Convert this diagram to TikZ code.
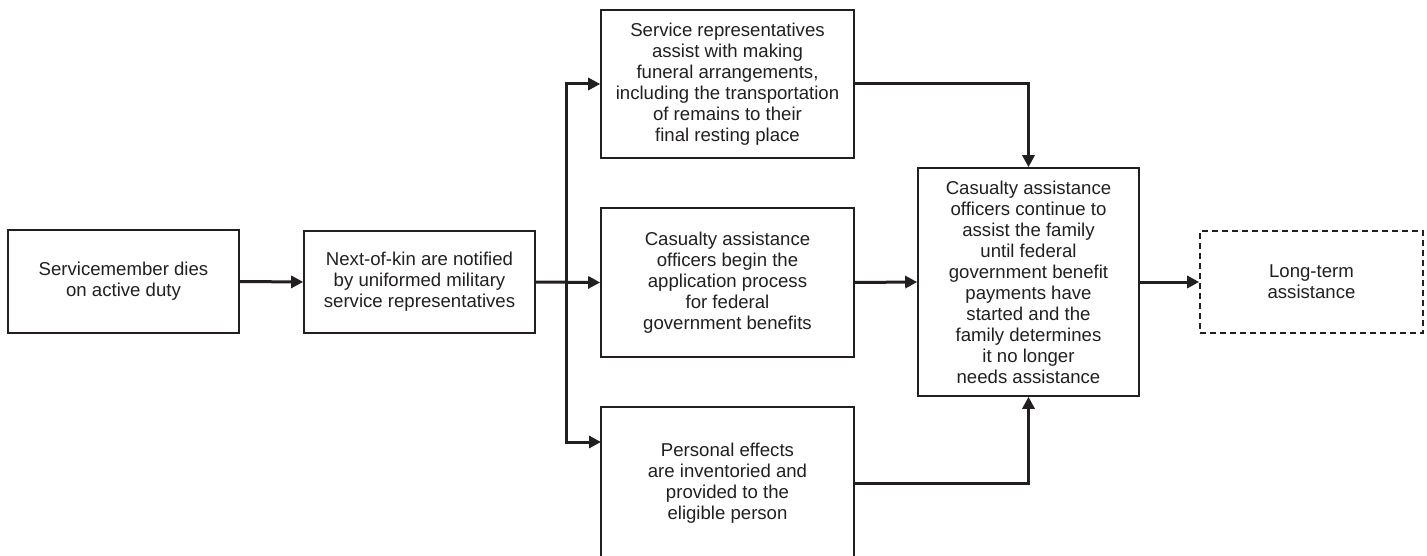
\documentclass[tikz,border=0pt]{standalone}
\usepackage{fontspec}
\setmainfont{Liberation Sans}
\usetikzlibrary{arrows.meta}
\definecolor{ink}{HTML}{231F20}
\tikzset{
  box/.style={draw=ink, line width=1.6pt, inner sep=0pt, align=center, text=ink,
    font=\fontsize{18.6}{21}\selectfont},
  dbox/.style={box, dash pattern=on 6pt off 4pt},
  conn/.style={draw=ink, line width=3pt, -{Triangle[length=12pt,width=12pt]}}
}
\begin{document}
\begin{tikzpicture}[x=1pt,y=-1pt]
\clip (0,0) rectangle (1427,556);
\fill[white] (0,0) rectangle (1427,556);
\node[box, minimum width=231pt, minimum height=103pt] (b1) at (123.5,281.5)
  {Servicemember dies\\on active duty};
\node[box, minimum width=231pt, minimum height=102pt] (b2) at (419.5,282)
  {Next-of-kin are notified\\by uniformed military\\service representatives};
\node[box, minimum width=253pt, minimum height=148pt] (top) at (727.5,84)
  {Service representatives\\assist with making\\funeral arrangements,\\including the transportation\\of remains to their\\final resting place};
\node[box, minimum width=253pt, minimum height=149pt] (mid) at (727.5,282.5)
  {Casualty assistance\\officers begin the\\application process\\for federal\\government benefits};
\node[box, minimum width=253pt, minimum height=152pt] (bot) at (727.5,483)
  {Personal effects\\are inventoried and\\provided to the\\eligible person};
\node[box, minimum width=221pt, minimum height=228pt] (rb) at (1028.5,282)
  {Casualty assistance\\officers continue to\\assist the family\\until federal\\government benefit\\payments have\\started and the\\family determines\\it no longer\\needs assistance};
\node[dbox, minimum width=223pt, minimum height=102pt] (lt) at (1311.5,282)
  {Long-term\\assistance};
\coordinate (j) at (566,282);
\coordinate (bin) at (601,442);
\draw[conn] (b1.east) -- (b2.west);
\draw[conn] (b2.east) -- (mid.west);
\draw[conn] (j) |- (top.west);
\draw[conn] (j) |- (bin);
\draw[conn] (top.east) -| (rb.north);
\draw[conn] (bot.east) -| (rb.south);
\draw[conn] (mid.east) -- (rb.west);
\draw[conn] (rb.east) -- (lt.west);
\end{tikzpicture}
\end{document}
